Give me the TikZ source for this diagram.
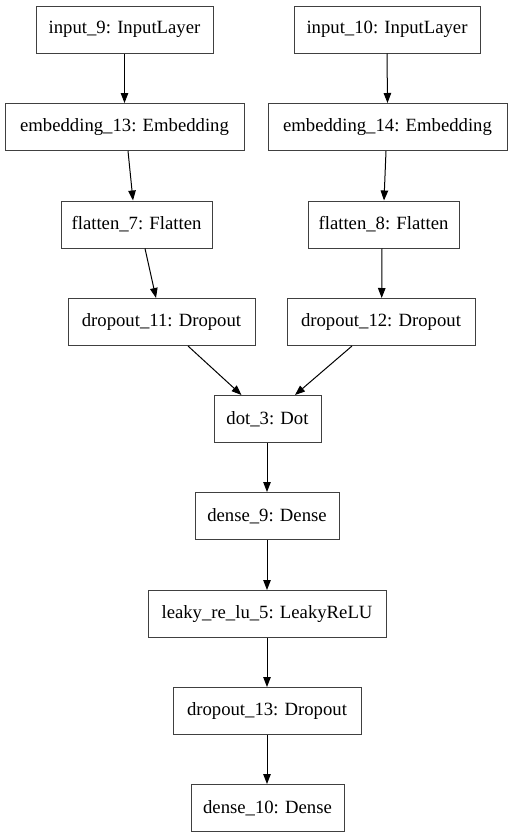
\documentclass[tikz,border=0pt]{standalone}
\usepackage{fontspec}
\setmainfont{Liberation Serif}
\usetikzlibrary{arrows.meta}
\begin{document}
\begin{tikzpicture}[x=1pt,y=-1pt,
  layer/.style={draw=black!75, line width=1pt, rectangle, inner sep=0pt, minimum height=47pt, font=\fontsize{18.7}{20}\selectfont},
  link/.style={line width=1pt, -{Triangle[length=10pt,width=7.5pt]}}]
\useasboundingbox (0,0) rectangle (512,839);
\node[layer, minimum width=177pt] (in9) at (124.5,29.5) {input\_9: InputLayer};
\node[layer, minimum width=186pt] (in10) at (387,29.5) {input\_10: InputLayer};
\node[layer, minimum width=239pt] (em13) at (124.5,127) {embedding\_13: Embedding};
\node[layer, minimum width=239pt] (em14) at (387.5,127) {embedding\_14: Embedding};
\node[layer, minimum width=151pt] (fl7) at (136.5,224.5) {flatten\_7: Flatten};
\node[layer, minimum width=151pt] (fl8) at (383.5,224.5) {flatten\_8: Flatten};
\node[layer, minimum width=187pt] (do11) at (161.5,322) {dropout\_11: Dropout};
\node[layer, minimum width=188pt] (do12) at (381,322) {dropout\_12: Dropout};
\node[layer, minimum width=107pt] (dot3) at (267.5,419) {dot\_3: Dot};
\node[layer, minimum width=144pt] (de9) at (267,516) {dense\_9: Dense};
\node[layer, minimum width=238pt] (lr5) at (267,614) {leaky\_re\_lu\_5: LeakyReLU};
\node[layer, minimum width=188pt] (do13) at (267,711) {dropout\_13: Dropout};
\node[layer, minimum width=153pt] (de10) at (267.5,808) {dense\_10: Dense};
\draw[link] (in9.south) -- (em13.north);
\draw[link] (in10.south) -- (em14.north);
\draw[link] ([xshift=3.5pt]em13.south) -- ([xshift=-3.5pt]fl7.north);
\draw[link] ([xshift=-1.5pt]em14.south) -- ([xshift=0.5pt]fl8.north);
\draw[link] ([xshift=8.5pt]fl7.south) -- ([xshift=-5.5pt]do11.north);
\draw[link] ([xshift=-1.5pt]fl8.south) -- ([xshift=0.7pt]do12.north);
\draw[link] ([xshift=26.5pt]do11.south) -- ([xshift=-26pt]dot3.north);
\draw[link] ([xshift=-29pt]do12.south) -- ([xshift=27.5pt]dot3.north);
\draw[link] ([xshift=-0.5pt]dot3.south) -- (de9.north);
\draw[link] (de9.south) -- (lr5.north);
\draw[link] (lr5.south) -- (do13.north);
\draw[link] (do13.south) -- ([xshift=-0.5pt]de10.north);
\end{tikzpicture}
\end{document}
